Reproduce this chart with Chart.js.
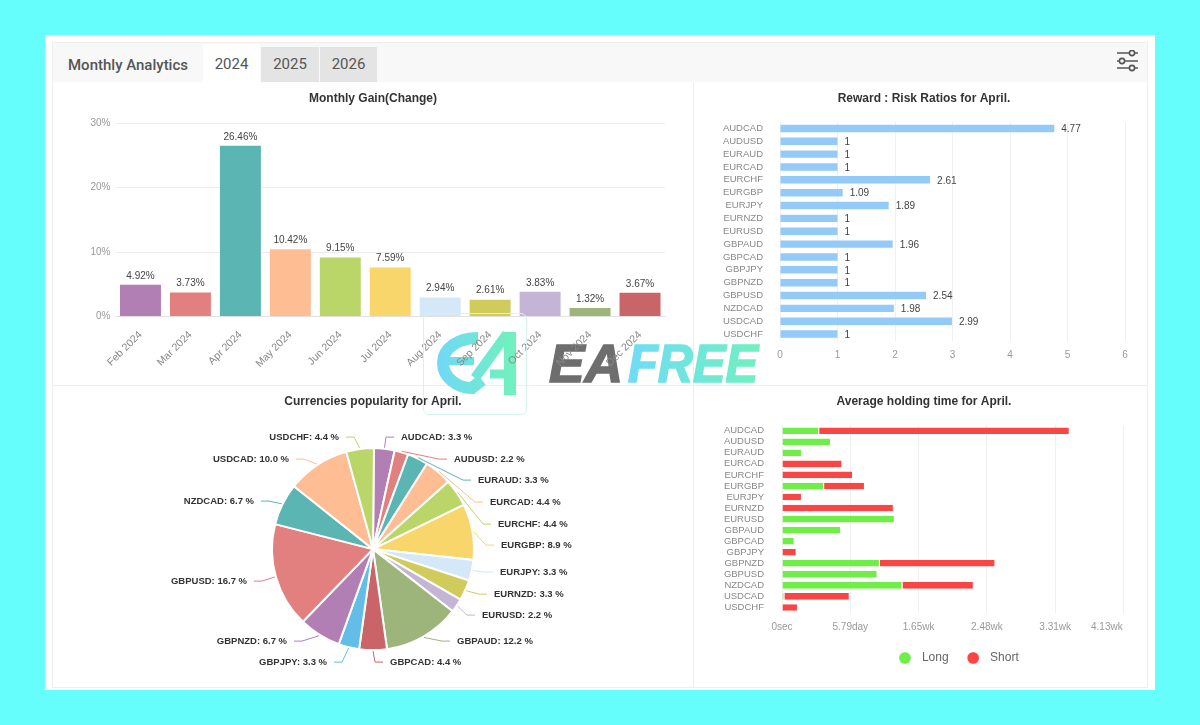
<!DOCTYPE html>
<html>
<head>
<meta charset="utf-8">
<title>Monthly Analytics</title>
<script src="https://cdn.jsdelivr.net/npm/chart.js@4"></script>
<style>
  html, body { margin: 0; padding: 0; width: 1200px; height: 725px; overflow: hidden; background: #66fdfd; font-family: "Liberation Sans", sans-serif; }
  .card { position: absolute; left: 45px; top: 35px; width: 1110px; height: 655px; background: #fff; }
  .panel { position: absolute; left: 52px; top: 42px; width: 1096px; height: 646px; border: 1px solid #eeeeee; box-sizing: border-box; }
  .head { position: absolute; left: 53px; top: 43px; width: 1094px; height: 39px; background: #f8f8f8; }
  .head-title { position: absolute; left: 68px; top: 56px; font: 500 15px Roboto, sans-serif; color: #555; }
  .tab { position: absolute; top: 47px; height: 35px; text-align: center; font: 15px/35px Roboto, sans-serif; color: #555; background: #e4e4e4; }
  .tab.on { top: 44px; height: 38px; line-height: 41px; background: #fff; }
  .divider-v { position: absolute; left: 693px; top: 82px; width: 1px; height: 605px; background: #eeeeee; }
  .divider-h { position: absolute; left: 53px; top: 385px; width: 1094px; height: 1px; background: #eeeeee; }
  canvas { position: absolute; }
  .wm-box { position: absolute; left: 423px; top: 313px; width: 104px; height: 102px; box-sizing: border-box; border: 1px solid #d5f3ee; border-radius: 6px; }
  .wm { position: absolute; left: 420px; top: 310px; }
  .wm text { font: italic bold 53px "Liberation Sans", sans-serif; }
</style>
</head>
<body>
<div class="card"></div>
<div class="panel"></div>
<div class="head"></div>
<div class="head-title">Monthly Analytics</div>
<div class="tab on" style="left:203px;width:57px">2024</div>
<div class="tab" style="left:261px;width:58px">2025</div>
<div class="tab" style="left:320px;width:57px">2026</div>
<svg style="position:absolute;left:1115px;top:50px" width="26" height="24" viewBox="0 0 26 24" fill="#f8f8f8" stroke="#555" stroke-width="1.6">
  <path d="M2 3H23M2 11H23M2 18H23"/>
  <circle cx="17" cy="3" r="2.6"/><circle cx="7" cy="11" r="2.6"/><circle cx="17" cy="18" r="2.6"/>
</svg>
<div class="divider-v"></div>
<div class="divider-h"></div>

<svg class="wm" width="345" height="100" viewBox="0 0 345 100">
  <defs>
    <linearGradient id="wmg" gradientUnits="userSpaceOnUse" x1="17" x2="95" y1="0" y2="0"><stop offset="0" stop-color="#70d8f8"/><stop offset="1" stop-color="#70f2bc"/></linearGradient>
    <linearGradient id="wmf" gradientUnits="userSpaceOnUse" x1="208" x2="338" y1="0" y2="0"><stop offset="0" stop-color="#70dcf6"/><stop offset="1" stop-color="#70f0c0"/></linearGradient>
  </defs>
  <g fill="none" stroke="url(#wmg)" stroke-width="12">
    <path d="M58 28 C38 28 23 38 23 53 C23 68 38 78 52 78 L62 70"/>
    <path d="M28 51 L54 51" stroke-width="8"/>
    <path d="M87 24 L55 68" stroke-width="10"/>
    <path d="M90 22 V85"/>
    <path d="M70 64 H90" stroke-width="9"/>
  </g>
  <text x="129" y="72" fill="#6e6e6e" stroke="#6e6e6e" stroke-width="1.6" textLength="74" lengthAdjust="spacingAndGlyphs">EA</text>
  <text x="208" y="72" fill="url(#wmf)" stroke="url(#wmf)" stroke-width="1.6" textLength="130" lengthAdjust="spacingAndGlyphs">FREE</text>
</svg>

<canvas id="gainChart" style="left:52px;top:85px" width="642" height="300"></canvas>
<canvas id="ratioChart" style="left:684px;top:85px" width="480" height="300"></canvas>
<canvas id="pieChart" style="left:52px;top:388px" width="642" height="298"></canvas>
<canvas id="holdChart" style="left:684px;top:388px" width="480" height="298"></canvas>
<div class="wm-box"></div>

<script>
// Monthly gain
const months = ['Feb 2024', 'Mar 2024', 'Apr 2024', 'May 2024', 'Jun 2024', 'Jul 2024', 'Aug 2024', 'Sep 2024', 'Oct 2024', 'Nov 2024', 'Dec 2024']
const gains = [4.92, 3.73, 26.46, 10.42, 9.15, 7.59, 2.94, 2.61, 3.83, 1.32, 3.67]

// Reward : risk
const pairs = ['AUDCAD', 'AUDUSD', 'EURAUD', 'EURCAD', 'EURCHF', 'EURGBP', 'EURJPY', 'EURNZD', 'EURUSD', 'GBPAUD', 'GBPCAD', 'GBPJPY', 'GBPNZD', 'GBPUSD', 'NZDCAD', 'USDCAD', 'USDCHF']
const ratios = [4.77, 1, 1, 1, 2.61, 1.09, 1.89, 1, 1, 1.96, 1, 1, 1, 2.54, 1.98, 2.99, 1]

// Popularity, %
const popularity = [3.3, 2.2, 3.3, 4.4, 4.4, 8.9, 3.3, 3.3, 2.2, 12.2, 4.4, 3.3, 6.7, 16.7, 6.7, 10.0, 4.4]

// Holding time, days
const holdLong = [3.15, 4.16, 1.69, 0, 0, 3.57, 0, 0, 9.56, 5.01, 1.07, 0, 8.3, 8.1, 10.21, 0.2, 0]
const holdShort = [21.24, 0, 0, 5.12, 6.02, 3.46, 1.69, 9.48, 0, 0, 0, 1.24, 9.79, 0, 6.05, 5.54, 1.35]
const holdTicks = ['0sec', '5.79day', '1.65wk', '2.48wk', '3.31wk', '4.13wk            ']

const palette = ['#b27fb5', '#e28080', '#5bb5b2', '#ffbd94', '#bbd668', '#f9d66b', '#d4e8f8', '#cfcc5c', '#c4b5d6', '#9db57b', '#c96468', '#62bde8']
const colorAt = (i) => palette[i % palette.length]
const font = (size, weight) => ({ family: '"Liberation Sans", sans-serif', size: size, weight: weight || 'normal' })

Chart.defaults.animation = false
Chart.defaults.responsive = false
Chart.defaults.devicePixelRatio = 1

const titleOf = (text, after) => ({
  display: true,
  text: text,
  color: '#333',
  font: font(12, 'bold'),
  padding: { top: 6, bottom: after }
})

const fixedWidth = (w) => (scale) => { scale.width = w }
const fixedHeight = (h) => (scale) => { scale.height = h }

// value labels next to the bars
const barLabels = {
  id: 'barLabels',
  afterDatasetsDraw(chart) {
    const o = chart.options.plugins.barLabels
    const c = chart.ctx
    c.save()
    c.font = '10px "Liberation Sans", sans-serif'
    c.fillStyle = '#444'
    c.textBaseline = 'middle'
    c.textAlign = o.horizontal ? 'left' : 'center'
    chart.getDatasetMeta(0).data.forEach((bar, i) => {
      const v = chart.data.datasets[0].data[i]
      if (o.horizontal) c.fillText(String(v), bar.x + 7, bar.y + 1)
      else c.fillText(v.toFixed(2) + '%', bar.x, bar.y - 9)
    })
    c.restore()
  }
}

// slice labels with connector lines: where each label sits relative to the pie centre
const pieLabelAt = [[28, -112], [81, -90], [105, -69], [117, -47], [125, -25], [128, -4], [127, 23], [121, 45], [109, 66], [84, 92], [17, 113],
  [-46, 113], [-86, 92], [-126, 32], [-119, -48], [-84, -90], [-34, -112]]
const pieLabels = {
  id: 'pieLabels',
  afterDatasetsDraw(chart) {
    const c = chart.ctx
    const meta = chart.getDatasetMeta(0)
    c.save()
    c.font = 'bold 9.5px "Liberation Sans", sans-serif'
    c.textBaseline = 'middle'
    meta.data.forEach((arc, i) => {
      const mid = (arc.startAngle + arc.endAngle) / 2
      const side = pieLabelAt[i][0] > 0 ? 1 : -1
      const lx = arc.x + pieLabelAt[i][0]
      const ly = arc.y + pieLabelAt[i][1]
      c.strokeStyle = colorAt(i)
      c.lineWidth = 1
      c.beginPath()
      c.moveTo(lx - side * 7, ly)
      c.lineTo(lx - side * 15, ly)
      c.lineTo(arc.x + Math.cos(mid) * (arc.outerRadius + 1), arc.y + Math.sin(mid) * (arc.outerRadius + 1))
      c.stroke()
      c.fillStyle = '#333'
      c.textAlign = side > 0 ? 'left' : 'right'
      c.fillText(chart.data.labels[i] + ': ' + popularity[i].toFixed(1) + ' %', lx, ly)
    })
    c.restore()
  }
}

// the legend sits right of the plot centre in the original
const legendShift = {
  id: 'legendShift',
  beforeDraw(chart) {
    chart.legend.left += 7
    chart.legend.right += 7
  }
}

new Chart(document.getElementById('gainChart'), {
  type: 'bar',
  plugins: [barLabels],
  data: {
    labels: months,
    datasets: [{ data: gains, backgroundColor: months.map((m, i) => colorAt(i)), barPercentage: 0.82, categoryPercentage: 1 }]
  },
  options: {
    layout: { padding: { left: 29, right: 29 } },
    plugins: {
      legend: { display: false },
      tooltip: { enabled: false },
      title: titleOf('Monthly Gain(Change)', 17.6),
      barLabels: { horizontal: false }
    },
    scales: {
      x: {
        afterFit: fixedHeight(68.5),
        grid: { display: false },
        border: { color: '#e2e2e2' },
        ticks: { color: '#888', font: font(10.5), minRotation: 45, maxRotation: 45, autoSkip: false, padding: 4 }
      },
      y: {
        min: 0,
        max: 30,
        afterFit: fixedWidth(34.5),
        border: { display: false },
        grid: { color: '#ececec', drawTicks: false },
        ticks: { stepSize: 10, color: '#999', font: font(10), padding: 5, callback: (v) => v + '%' }
      }
    }
  }
})

new Chart(document.getElementById('ratioChart'), {
  type: 'bar',
  plugins: [barLabels],
  data: {
    labels: pairs,
    datasets: [{ data: ratios, backgroundColor: '#93caf7', barPercentage: 0.58, categoryPercentage: 1 }]
  },
  options: {
    indexAxis: 'y',
    layout: { padding: { left: 39, right: 39 } },
    plugins: {
      legend: { display: false },
      tooltip: { enabled: false },
      title: titleOf('Reward : Risk Ratios for April.', 16.6),
      barLabels: { horizontal: true }
    },
    scales: {
      x: {
        min: 0,
        max: 6,
        afterFit: fixedHeight(44.5),
        border: { display: false },
        grid: { color: '#f0f0f0', drawTicks: false },
        ticks: { stepSize: 1, color: '#999', font: font(10), padding: 9 }
      },
      y: {
        afterFit: fixedWidth(57),
        border: { display: false },
        grid: { display: false },
        ticks: { color: '#888', font: font(9.5), padding: 9, autoSkip: false }
      }
    }
  }
})

new Chart(document.getElementById('pieChart'), {
  type: 'pie',
  plugins: [pieLabels],
  data: {
    labels: pairs,
    datasets: [{ data: popularity, backgroundColor: pairs.map((p, i) => colorAt(i)), borderColor: '#fff', borderWidth: 2, radius: 101 }]
  },
  options: {
    rotation: 0.5,
    layout: { padding: { bottom: 13 } },
    plugins: {
      legend: { display: false },
      tooltip: { enabled: false },
      title: titleOf('Currencies popularity for April.', 16.8)
    }
  }
})

new Chart(document.getElementById('holdChart'), {
  type: 'bar',
  plugins: [legendShift],
  data: {
    labels: pairs,
    datasets: [
      { label: '  Long ', data: holdLong, backgroundColor: '#70ee48', borderColor: '#fff', borderWidth: { right: 1 }, barPercentage: 0.6, categoryPercentage: 1 },
      { label: '  Short', data: holdShort, backgroundColor: '#fa4545', borderColor: '#fff', borderWidth: { right: 1 }, barPercentage: 0.6, categoryPercentage: 1 }
    ]
  },
  options: {
    indexAxis: 'y',
    layout: { padding: { left: 39, right: 39, bottom: 12 } },
    plugins: {
      tooltip: { enabled: false },
      title: titleOf('Average holding time for April.', 16.8),
      legend: {
        position: 'bottom',
        fullSize: false,
        labels: { usePointStyle: true, pointStyle: 'circle', boxWidth: 8.5, boxHeight: 8.5, padding: 17, color: '#666', font: font(12) }
      }
    },
    scales: {
      x: {
        stacked: true,
        min: 0,
        max: 28.95,
        afterFit: fixedHeight(22),
        border: { display: false },
        grid: { color: '#f0f0f0', drawTicks: false },
        ticks: { stepSize: 5.79, color: '#999', font: font(10), padding: 8, maxRotation: 0, autoSkip: false, callback: (v, i) => holdTicks[i] }
      },
      y: {
        stacked: true,
        afterFit: fixedWidth(59),
        border: { display: false },
        grid: { display: false },
        ticks: { color: '#888', font: font(9.5), padding: 10, autoSkip: false }
      }
    }
  }
})
</script>
</body>
</html>
